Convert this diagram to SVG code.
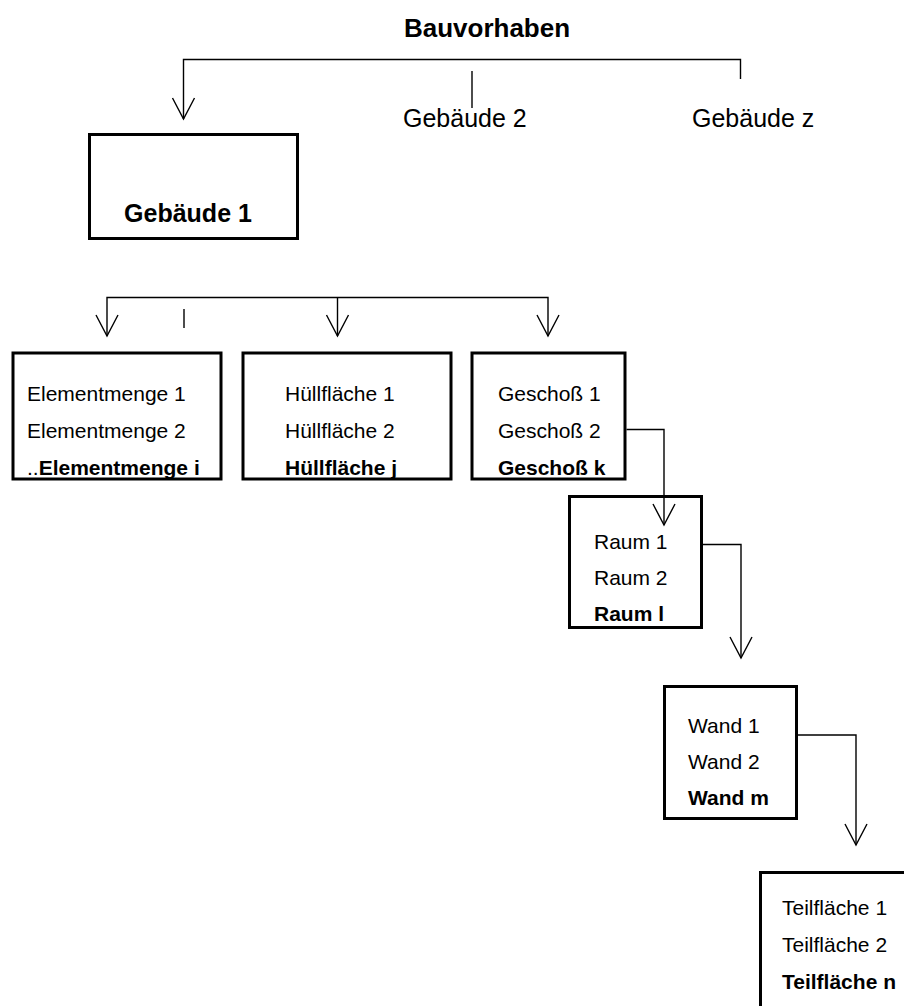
<svg xmlns="http://www.w3.org/2000/svg" width="904" height="1006" viewBox="0 0 904 1006">
  <style>
    text { font-family: "Liberation Sans", Arial, sans-serif; fill: #000; }
    .title { font-size: 25px; font-weight: bold; }
    .lbl { font-size: 25px; }
    .item { font-size: 21px; }
    .b { font-weight: bold; }
    .box { fill: #fff; stroke: #000; stroke-width: 3; }
    .wire { fill: none; stroke: #000; stroke-width: 1.4; }
  </style>
  <defs>
    <!-- open V arrowhead, tip at origin -->
    <path id="vhead" d="M-11,-21 L0,0 L11,-21" fill="none" stroke="#000" stroke-width="1.4"/>
  </defs>
  <rect width="904" height="1006" fill="#fff"/>

  <!-- project root and sibling buildings -->
  <g id="bauvorhaben">
    <text class="title" x="487" y="37" text-anchor="middle" style="font-size:26px">Bauvorhaben</text>
  </g>
  <g id="gebaeude2">
    <text class="lbl" x="403" y="127">Gebäude 2</text>
  </g>
  <g id="gebaeudez">
    <text class="lbl" x="692" y="127">Gebäude z</text>
  </g>

  <g id="gebaeude1">
    <rect class="box" x="89.5" y="134.5" width="208" height="104"/>
    <text class="title" x="188" y="222" text-anchor="middle">Gebäude 1</text>
  </g>

  <g id="elementmengen">
    <rect class="box" x="13" y="353" width="208" height="126"/>
    <text class="item" x="27" y="401">Elementmenge 1</text>
    <text class="item" x="27" y="438">Elementmenge 2</text>
    <text class="item" x="27" y="475">..<tspan class="b">Elementmenge i</tspan></text>
  </g>

  <g id="huellflaechen">
    <rect class="box" x="243" y="353" width="208" height="126"/>
    <text class="item" x="285" y="401">Hüllfläche 1</text>
    <text class="item" x="285" y="438">Hüllfläche 2</text>
    <text class="item b" x="285" y="475">Hüllfläche j</text>
  </g>

  <g id="geschosse">
    <rect class="box" x="472" y="353" width="153" height="126"/>
    <text class="item" x="498" y="401">Geschoß 1</text>
    <text class="item" x="498" y="438">Geschoß 2</text>
    <text class="item b" x="498" y="475">Geschoß k</text>
  </g>

  <g id="raeume">
    <rect class="box" x="569.5" y="496.5" width="132" height="131"/>
    <text class="item" x="594" y="549">Raum 1</text>
    <text class="item" x="594" y="585">Raum 2</text>
    <text class="item b" x="594" y="621">Raum l</text>
  </g>

  <g id="waende">
    <rect class="box" x="664.5" y="686.5" width="132" height="132"/>
    <text class="item" x="688" y="733">Wand 1</text>
    <text class="item" x="688" y="769">Wand 2</text>
    <text class="item b" x="688" y="805">Wand m</text>
  </g>

  <g id="teilflaechen">
    <rect class="box" x="760.5" y="872.5" width="160" height="150"/>
    <text class="item" x="782" y="915">Teilfläche 1</text>
    <text class="item" x="782" y="952">Teilfläche 2</text>
    <text class="item b" x="782" y="989">Teilfläche n</text>
  </g>

  <!-- connectors drawn last so arrowheads sit on top of the boxes -->
  <g id="connectors">
    <!-- project to buildings -->
    <path class="wire" d="M183.5,119 V59.5 H740.5 V79"/>
    <use href="#vhead" x="183.5" y="119"/>
    <path class="wire" d="M472,71 V108"/>
    <!-- building to subsets -->
    <path class="wire" d="M107,336 V297.5 H548 V336"/>
    <path class="wire" d="M337.5,297.5 V336"/>
    <use href="#vhead" x="107" y="336"/>
    <use href="#vhead" x="337.5" y="336"/>
    <use href="#vhead" x="548" y="336"/>
    <path class="wire" d="M184,309 V328"/>
    <!-- storey to room -->
    <path class="wire" d="M626.5,429.5 H664 V525"/>
    <use href="#vhead" x="664" y="525"/>
    <!-- room to wall -->
    <path class="wire" d="M703,544.5 H741 V658"/>
    <use href="#vhead" x="741" y="658"/>
    <!-- wall to partial surface -->
    <path class="wire" d="M798,735 H856 V845"/>
    <use href="#vhead" x="856" y="845"/>
  </g>
</svg>
